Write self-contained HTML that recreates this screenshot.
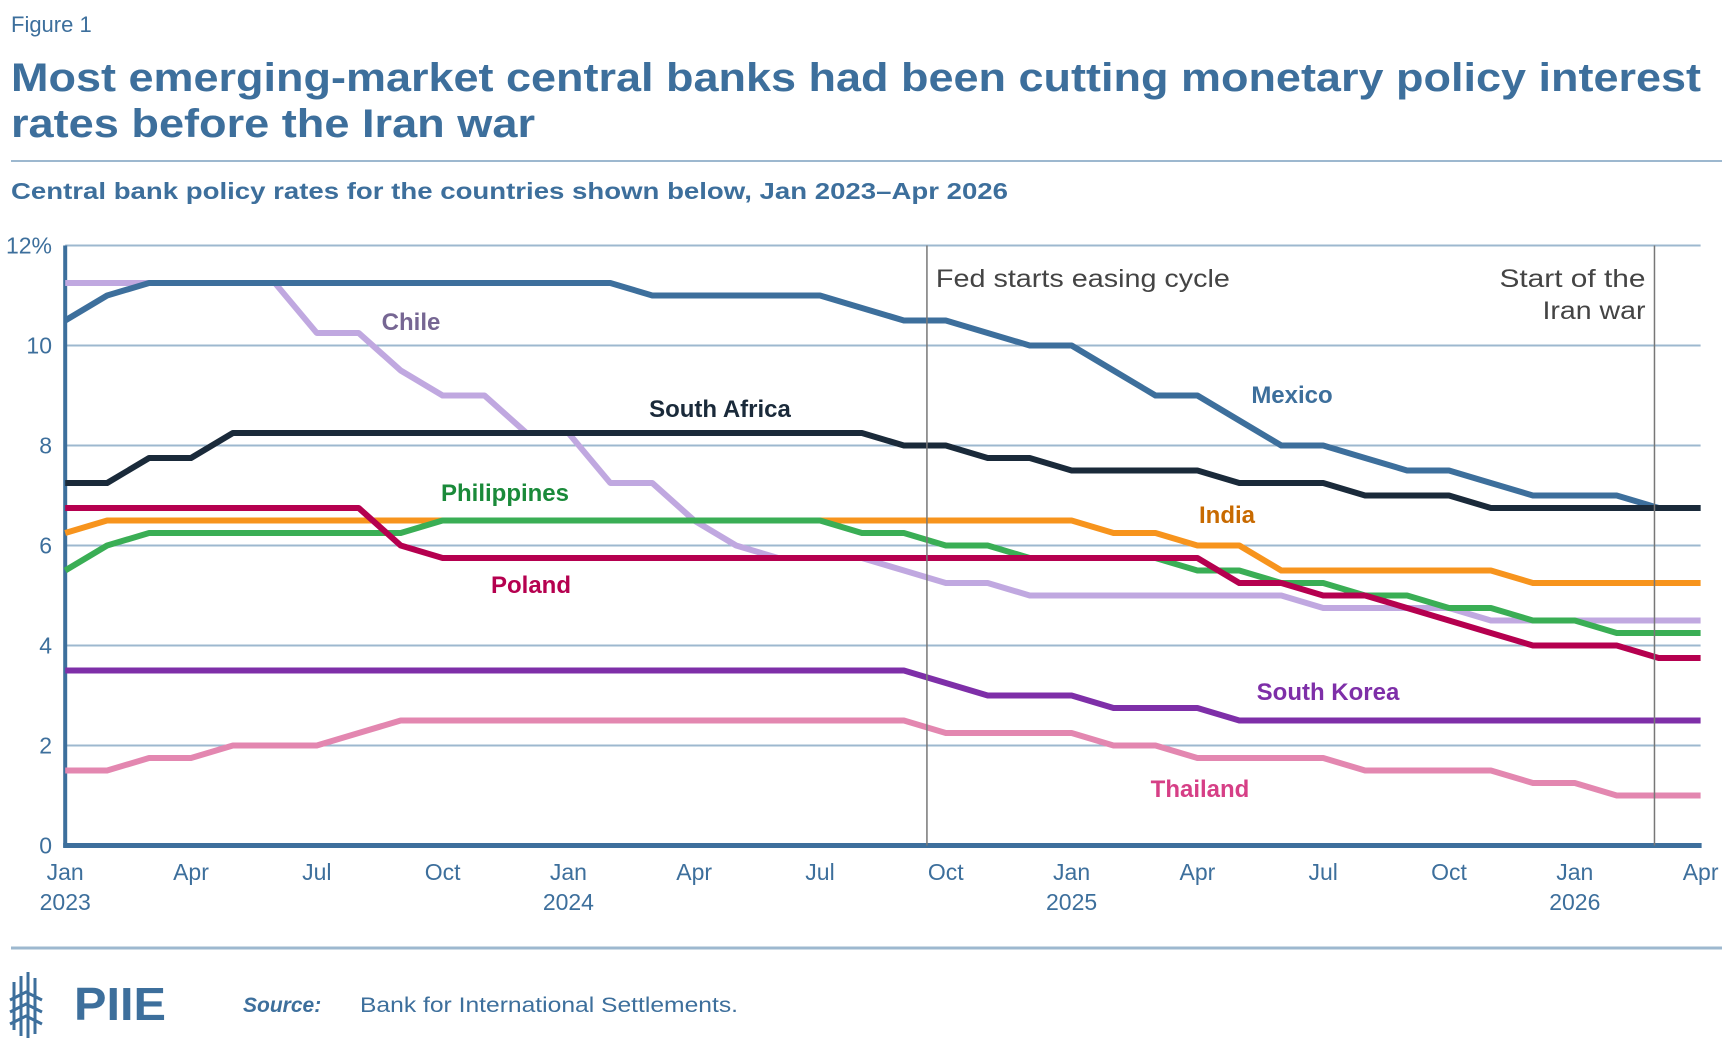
<!DOCTYPE html>
<html><head><meta charset="utf-8"><style>
html,body{margin:0;padding:0;background:#fff;}
svg{display:block;font-family:"Liberation Sans",sans-serif;}
</style></head><body>
<svg id="chart" width="1732" height="1046" viewBox="0 0 1732 1046">
<text x="11" y="32" font-size="22" fill="#3d6f9c">Figure 1</text>
<text x="11" y="91" font-size="40" font-weight="bold" fill="#3d6f9c" textLength="1690" lengthAdjust="spacingAndGlyphs">Most emerging-market central banks had been cutting monetary policy interest</text>
<text x="11" y="137" font-size="40" font-weight="bold" fill="#3d6f9c" textLength="524" lengthAdjust="spacingAndGlyphs">rates before the Iran war</text>
<line x1="11" y1="161" x2="1722" y2="161" stroke="#9db8cf" stroke-width="2"/>
<text x="11" y="199" font-size="23" font-weight="bold" fill="#3d6f9c" textLength="997" lengthAdjust="spacingAndGlyphs">Central bank policy rates for the countries shown below, Jan 2023–Apr 2026</text>
<g id="grid"></g>
<g id="xlabels"></g>
<g id="series"></g>
<g id="annot"></g>
<line x1="11" y1="948" x2="1722" y2="948" stroke="#9db8cf" stroke-width="3"/>
<g>
<g stroke="#3d6f9c" stroke-width="3" fill="none">
<line x1="14" y1="982" x2="14" y2="1030"/><line x1="21" y1="976" x2="21" y2="1036"/><line x1="28" y1="972" x2="28" y2="1038"/><line x1="35" y1="978" x2="35" y2="1034"/>
<polyline points="10,1000 26,992 42,1000"/><polyline points="10,1012 26,1004 42,1012"/><polyline points="10,1024 26,1016 42,1024"/>
</g>
<text x="74" y="1020" font-size="46" font-weight="bold" fill="#3d6f9c" textLength="92" lengthAdjust="spacingAndGlyphs">PIIE</text>
</g>
<text x="243" y="1012" font-size="21" font-weight="bold" font-style="italic" fill="#3d6f9c">Source:</text>
<text x="360" y="1012" font-size="21" fill="#3d6f9c" textLength="378" lengthAdjust="spacingAndGlyphs">Bank for International Settlements.</text>
</svg>
<script>
const yTicks = [0,2,4,6,8,10,12];
const xTickMonths = [0,3,6,9,12,15,18,21,24,27,30,33,36,39];
const xTickLabels = ["Jan","Apr","Jul","Oct","Jan","Apr","Jul","Oct","Jan","Apr","Jul","Oct","Jan","Apr"];
const yearLabels = ["2023","2024","2025","2026"];
const mexico = [10.5,11,11.25,11.25,11.25,11.25,11.25,11.25,11.25,11.25,11.25,11.25,11.25,11.25,11,11,11,11,11,10.75,10.5,10.5,10.25,10,10,9.5,9,9,8.5,8,8,7.75,7.5,7.5,7.25,7,7,7,6.75,6.75];
const southAfrica = [7.25,7.25,7.75,7.75,8.25,8.25,8.25,8.25,8.25,8.25,8.25,8.25,8.25,8.25,8.25,8.25,8.25,8.25,8.25,8.25,8,8,7.75,7.75,7.5,7.5,7.5,7.5,7.25,7.25,7.25,7,7,7,6.75,6.75,6.75,6.75,6.75,6.75];
const chile = [11.25,11.25,11.25,11.25,11.25,11.25,10.25,10.25,9.5,9,9,8.25,8.25,7.25,7.25,6.5,6,5.75,5.75,5.75,5.5,5.25,5.25,5,5,5,5,5,5,5,4.75,4.75,4.75,4.75,4.5,4.5,4.5,4.5,4.5,4.5];
const philippines = [5.5,6,6.25,6.25,6.25,6.25,6.25,6.25,6.25,6.5,6.5,6.5,6.5,6.5,6.5,6.5,6.5,6.5,6.5,6.25,6.25,6,6,5.75,5.75,5.75,5.75,5.5,5.5,5.25,5.25,5,5,4.75,4.75,4.5,4.5,4.25,4.25,4.25];
const india = [6.25,6.5,6.5,6.5,6.5,6.5,6.5,6.5,6.5,6.5,6.5,6.5,6.5,6.5,6.5,6.5,6.5,6.5,6.5,6.5,6.5,6.5,6.5,6.5,6.5,6.25,6.25,6,6,5.5,5.5,5.5,5.5,5.5,5.5,5.25,5.25,5.25,5.25,5.25];
const poland = [6.75,6.75,6.75,6.75,6.75,6.75,6.75,6.75,6,5.75,5.75,5.75,5.75,5.75,5.75,5.75,5.75,5.75,5.75,5.75,5.75,5.75,5.75,5.75,5.75,5.75,5.75,5.75,5.25,5.25,5,5,4.75,4.5,4.25,4,4,4,3.75,3.75];
const southKorea = [3.5,3.5,3.5,3.5,3.5,3.5,3.5,3.5,3.5,3.5,3.5,3.5,3.5,3.5,3.5,3.5,3.5,3.5,3.5,3.5,3.5,3.25,3,3,3,2.75,2.75,2.75,2.5,2.5,2.5,2.5,2.5,2.5,2.5,2.5,2.5,2.5,2.5,2.5];
const thailand = [1.5,1.5,1.75,1.75,2,2,2,2.25,2.5,2.5,2.5,2.5,2.5,2.5,2.5,2.5,2.5,2.5,2.5,2.5,2.5,2.25,2.25,2.25,2.25,2,2,1.75,1.75,1.75,1.75,1.5,1.5,1.5,1.5,1.25,1.25,1,1,1];
const eventMonths = [20.55, 37.9];

const NS="http://www.w3.org/2000/svg";
const X0=65.2, X1=1700.6, Y0=845.5, Y12=245.5;
function xs(m){return X0+(X1-X0)*m/39;}
function ys(v){return Y0+(Y12-Y0)*v/12;}
function mk(tag,attrs,parent,text){const e=document.createElementNS(NS,tag);for(const k in attrs)e.setAttribute(k,attrs[k]);if(text!==undefined)e.textContent=text;parent.appendChild(e);return e;}

const grid=document.getElementById('grid');
yTicks.forEach(v=>{
  if(v>0){
    const l=mk('line',{x1:X0,x2:X1,y1:ys(v),y2:ys(v),stroke:'#9db8cf','stroke-width':2},grid);
    
    
  }
  const t=mk('text',{x:52,y:ys(v)+8,'text-anchor':'end','font-size':23,fill:'#3d6f9c'},grid,v===12?'12%':String(v));
  
  
});
const ax=mk('line',{x1:X0,x2:X0,y1:Y12,y2:Y0+2,stroke:'#3d6f9c','stroke-width':4},grid);


const xax=mk('line',{x1:X0-2,x2:X1+1,y1:Y0,y2:Y0,stroke:'#3d6f9c','stroke-width':5},grid);



const xl=document.getElementById('xlabels');
xTickMonths.forEach((m,i)=>{
  const t=mk('text',{x:xs(m),y:880,'text-anchor':'middle','font-size':23,fill:'#3d6f9c'},xl,xTickLabels[i]);
  
  
});
yearLabels.forEach((y,i)=>{
  const t=mk('text',{x:xs(i*12),y:910,'text-anchor':'middle','font-size':23,fill:'#3d6f9c'},xl,y);
  
  
});

const an=document.getElementById('annot');
eventMonths.forEach((m,i)=>{
  const l=mk('line',{x1:xs(m),x2:xs(m),y1:Y12,y2:Y0,stroke:'#777','stroke-width':1.5},an);
  
  
});
const a1=mk('text',{x:xs(eventMonths[0])+9,y:287,'font-size':25,fill:'#444',textLength:294,lengthAdjust:'spacingAndGlyphs'},an,'Fed starts easing cycle');


const a2=mk('text',{x:xs(eventMonths[1])-155,y:287,'font-size':25,fill:'#444',textLength:146,lengthAdjust:'spacingAndGlyphs'},an,'Start of the');


const a3=mk('text',{x:xs(eventMonths[1])-112,y:319,'font-size':25,fill:'#444',textLength:103,lengthAdjust:'spacingAndGlyphs'},an,'Iran war');



const ser=document.getElementById('series');
const defs=[
 ['chile',chile,'#c0a8e0','Chile','#766693',411,322],
 ['thailand',thailand,'#e387b0','Thailand','#d63f86',1200,789],
 ['south-korea',southKorea,'#7e2fa8','South Korea','#7e2fa8',1328,692],
 ['india',india,'#f7941d','India','#c86a00',1227,515],
 ['philippines',philippines,'#3aae55','Philippines','#1a8a3a',505,493],
 ['poland',poland,'#b5004f','Poland','#b5004f',531,585],
 ['mexico',mexico,'#3d6f9c','Mexico','#3d6f9c',1292,395],
 ['south-africa',southAfrica,'#1a2a3a','South Africa','#1a2a3a',720,409]
];
defs.forEach(d=>{
  const pts=d[1].map((v,i)=>xs(i).toFixed(1)+','+ys(v).toFixed(1)).join(' ');
  const p=mk('polyline',{points:pts,fill:'none',stroke:d[2],'stroke-width':6,'stroke-linejoin':'round'},ser);
  
  
});
defs.forEach(d=>{
  const t=mk('text',{x:d[5],y:d[6]+8,'text-anchor':'middle','font-size':24,'font-weight':'bold',fill:d[4]},ser,d[3]);
  
  
});
</script>
</body></html>
